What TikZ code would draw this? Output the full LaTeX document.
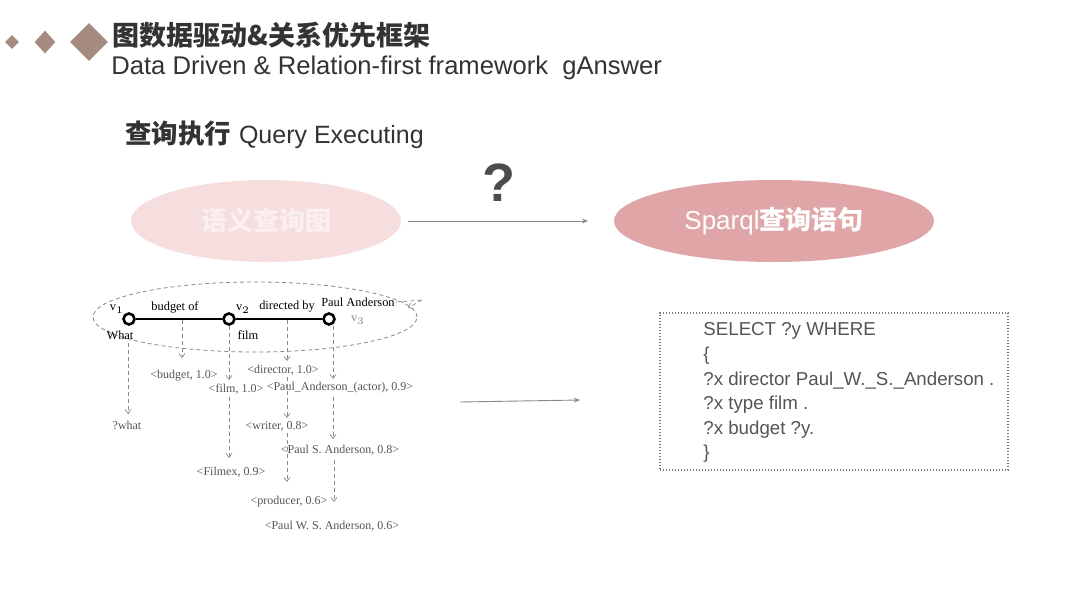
\documentclass[tikz,border=0pt]{standalone}
\usepackage{fontspec}
\setmainfont{Liberation Sans}
\newfontfamily\cjk{Noto Sans CJK SC}
\newfontfamily\tms{Liberation Serif}
\usetikzlibrary{arrows.meta,shapes.geometric}
\definecolor{dia}{HTML}{A58B7F}
\definecolor{txt}{HTML}{333333}
\definecolor{lpink}{HTML}{F6DEDE}
\definecolor{lpinktxt}{HTML}{FBEFEF}
\definecolor{dpink}{HTML}{E0A5A7}
\definecolor{lgray}{HTML}{8A8A8A}
\definecolor{ltxt}{HTML}{555555}
\tikzset{
  dia/.style={diamond, fill=dia, inner sep=0pt, aspect=1},
  gnode/.style={circle, draw=black, line width=1.3pt, fill=white, inner sep=0pt, minimum size=5.5pt},
  glab/.style={font=\tms\fontsize{6.2}{7}\selectfont, text=black, inner sep=0.5pt},
  cand/.style={font=\tms\fontsize{6}{7}\selectfont, text=ltxt, inner sep=0.5pt},
  darr/.style={draw=lgray, line width=0.35pt, dash pattern=on 2pt off 1.5pt, -{Straight Barb[length=2pt,width=3pt]}},
  arr/.style={draw=lgray, line width=0.45pt, -{Stealth[length=3pt,width=2.5pt]}},
  sq/.style={font=\fontsize{9.35}{11}\selectfont, text=ltxt, anchor=west, inner sep=0pt}
}
\begin{document}
\begin{tikzpicture}[x=0.5pt,y=-0.5pt]
\useasboundingbox (0,0) rectangle (1080,605);
\fill[white] (0,0) rectangle (1080,605);
% header
\node[dia, minimum width=7pt, minimum height=7pt] (d1) at (12,42) {};
\node[dia, minimum width=10.5pt, minimum height=11.5pt] (d2) at (45,42) {};
\node[dia, minimum width=19pt, minimum height=19pt] (d3) at (89,42) {};
\node[anchor=west, inner sep=0pt, text=txt, font=\cjk\bfseries\fontsize{13.5}{15}\selectfont] (t1) at (112,35) {图数据驱动\&关系优先框架};
\node[anchor=west, inner sep=0pt, text=txt, font=\fontsize{12.8}{14}\selectfont] (t2) at (111,68) {Data Driven \& Relation-first framework\ \ gAnswer};
\node[anchor=west, inner sep=0pt, text=txt] (t3) at (125,135) {{\cjk\bfseries\fontsize{13.2}{15}\selectfont 查询执行}\hspace{4pt}{\fontsize{12.5}{14}\selectfont Query Executing}};
\node[text=ltxt!90!black, font=\bfseries\fontsize{27}{30}\selectfont, inner sep=0pt] (q) at (499,183) {?};
% ellipses
\node[ellipse, fill=lpink, minimum width=135pt, minimum height=41pt, inner sep=0pt, text=lpinktxt, font=\cjk\bfseries\fontsize{13}{15}\selectfont] (e1) at (266,221) {语义查询图};
\node[ellipse, fill=dpink, minimum width=160pt, minimum height=41pt, inner sep=0pt, text=white, font=\fontsize{13}{15}\selectfont] (e2) at (774,221) {Sparql{\cjk\bfseries 查询语句}};
\coordinate (a1s) at (408,221);
\coordinate (a1e) at (588,221);
\draw[arr] (a1s) -- (a1e);
% query graph
\node[ellipse, draw=lgray, line width=0.4pt, dash pattern=on 2pt off 1.5pt, minimum width=162pt, minimum height=35pt, inner sep=0pt] (qg) at (255,317) {};
\node[gnode] (v1) at (129,319) {};
\node[gnode] (v2) at (229,319) {};
\node[gnode] (v3) at (329,319) {};
\draw[line width=1.4pt] (v1) -- (v2) -- (v3);
\node[glab] (l1) at (117,309) {v$_1$};
\node[glab] (bo) at (175,307) {budget of};
\node[glab] (l2) at (243,309) {v$_2$};
\node[glab] (db) at (287,307) {directed by};
\node[glab] (pa) at (358,302) {Paul Anderson};
\node[glab, text=lgray] (l3) at (358,320) {v$_3$};
\node[glab] (wh) at (120,335) {What};
\node[glab] (fi) at (248,335) {film};
\coordinate (pae) at (422,300);
\draw[draw=lgray, line width=0.35pt, dash pattern=on 2pt off 1.5pt] (pa.east) -- (pae);
\coordinate (pat) at (408,308);
\draw[darr] (pae) -- (pat);
% candidates
\node[cand] (cwhat) at (127,425) {?what};
\node[cand] (cbud) at (184,376) {<budget, 1.0>};
\node[cand] (cfilm) at (236,389) {<film, 1.0>};
\node[cand] (cfilmex) at (231,472) {<Filmex, 0.9>};
\node[cand] (cdir) at (283,370) {<director, 1.0>};
\node[cand] (cwri) at (277,426) {<writer, 0.8>};
\node[cand] (cprod) at (289,502) {<producer, 0.6>};
\node[cand] (cpaa) at (340,388) {<Paul\_Anderson\_(actor), 0.9>};
\node[cand] (cpsa) at (340,450) {<Paul S. Anderson, 0.8>};
\node[cand] (cpwsa) at (332,526) {<Paul W. S. Anderson, 0.6>};
\coordinate (m1) at (182,320);
\coordinate (m2) at (287,320);
\draw[darr] (128,343) -- (128,414);
\draw[darr] (m1) -- (182,358);
\draw[darr] (229,326) -- (229,380);
\draw[darr] (229,397) -- (229,458);
\draw[darr] (m2) -- (287,361);
\draw[darr] (287,377) -- (287,418);
\draw[darr] (287,433) -- (287,482);
\draw[darr] (333,326) -- (333,379);
\draw[darr] (333,397) -- (333,439);
\draw[darr] (334,460) -- (334,502);
% arrow to sparql
\coordinate (a2s) at (460,402);
\coordinate (a2e) at (580,400);
\draw[arr] (a2s) -- (a2e);
% sparql box
\node[draw=ltxt!80, line width=0.6pt, dash pattern=on 0.6pt off 0.9pt, minimum width=174pt, minimum height=78.5pt, inner sep=0pt] (box) at (834,391.5) {};
\node[sq] (s1) at (703,331) {SELECT ?y WHERE};
\node[sq] (s2) at (703,356) {\{};
\node[sq] (s3) at (703,381) {?x director Paul\_W.\_S.\_Anderson .};
\node[sq] (s4) at (703,405) {?x type film .};
\node[sq] (s5) at (703,430) {?x budget ?y.};
\node[sq] (s6) at (703,454) {\}};
\end{tikzpicture}
\end{document}
